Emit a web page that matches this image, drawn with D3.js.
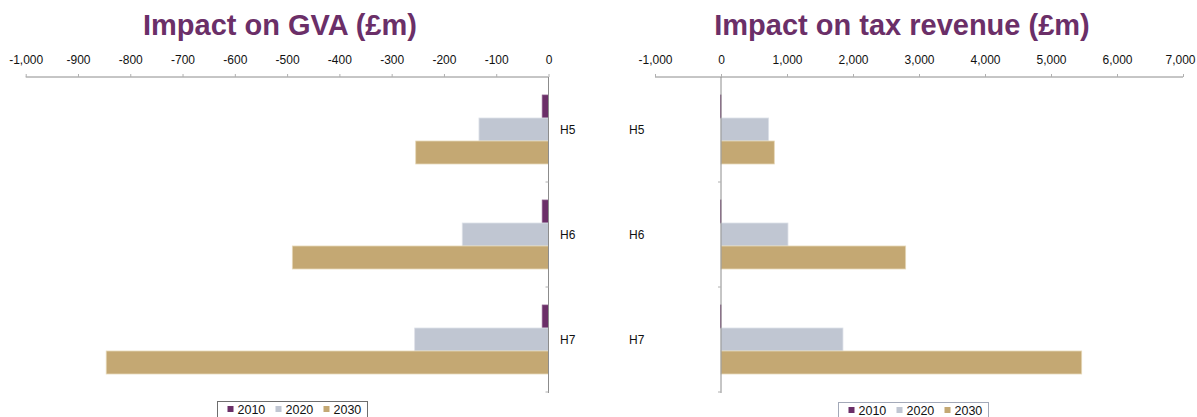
<!DOCTYPE html>
<html>
<head>
<meta charset="utf-8">
<script src="https://cdn.jsdelivr.net/npm/d3@7"></script>
<style>
  html, body { margin: 0; padding: 0; background: #fff; }
  svg { display: block; font-family: "Liberation Sans", Arial, sans-serif; }
</style>
</head>
<body>
<svg id="chart" width="1197" height="417"></svg>
<script>
// Scenario categories and years
const categories = ["H5", "H6", "H7"];
const years = ["2010", "2020", "2030"];

// Impact on GVA (£m), one array per year, in category order
const gva2010 = [-12, -12, -12];
const gva2020 = [-133, -165, -256];
const gva2030 = [-254, -490, -846];

// Impact on tax revenue (£m)
const tax2010 = [-8, -8, -8];
const tax2020 = [722, 1015, 1848];
const tax2030 = [808, 2798, 5465];

// Axis tick values
const gvaTicks = [-1000, -900, -800, -700, -600, -500, -400, -300, -200, -100, 0];
const taxTicks = [-1000, 0, 1000, 2000, 3000, 4000, 5000, 6000, 7000];

const colors = { "2010": "#6b2f68", "2020": "#c0c6d2", "2030": "#c4a873" };
const strokes = { "2010": "#8a5a88", "2020": "#dde1e8", "2030": "#e6d8b8" };
const purple = "#6b2f68";
const axisGrey = "#8c8c8c";
const W = 1197;

const svg = d3.select("#chart");
const comma = d3.format(",");
// thousands separator with a plain hyphen for negatives
const fmt = d => comma(d).replace("\u2212", "-");

function drawPanel(opts) {
  const g = svg.append("g");
  const x = d3.scaleLinear().domain(opts.domain).range(opts.xRange);
  const y = d3.scaleBand().domain(categories).range([77, 392])
    .paddingInner(0.343).paddingOuter(0.1715);
  const ySub = d3.scaleBand().domain(years).range([0, y.bandwidth()]);

  // Title
  g.append("text")
    .attr("x", opts.titleX).attr("y", 35)
    .attr("text-anchor", "middle")
    .attr("font-size", 29).attr("font-weight", "bold")
    .attr("fill", purple)
    .text(opts.title);

  // Bars
  const rows = categories.map((c, i) => ({
    cat: c,
    vals: years.map((yr, k) => ({ year: yr, value: opts.series[k][i] }))
  }));
  const grp = g.selectAll("g.cat").data(rows).join("g")
    .attr("transform", d => `translate(0,${y(d.cat)})`);
  grp.selectAll("rect").data(d => d.vals).join("rect")
    .attr("x", d => x(Math.min(0, d.value)))
    .attr("y", d => ySub(d.year))
    .attr("width", d => Math.abs(x(d.value) - x(0)))
    .attr("height", ySub.bandwidth())
    .attr("fill", d => colors[d.year])
    .attr("stroke", d => strokes[d.year])
    .attr("stroke-width", 0.8);

  // Value axis along the top
  const xAxis = d3.axisTop(x).tickValues(opts.ticks).tickFormat(fmt)
    .tickSize(3).tickPadding(10);
  const ax = g.append("g").attr("transform", "translate(0,77)").call(xAxis);
  ax.select(".domain").attr("stroke", axisGrey).attr("d", `M${opts.xRange[0]},0H${opts.xRange[1]}`);
  ax.selectAll(".tick line").attr("stroke", "#b0b0b0");
  ax.selectAll(".tick text").attr("font-size", 12).attr("fill", "#111")
    .attr("font-family", "Liberation Sans, Arial, sans-serif")
    .each(function (d) {
      // keep the outermost label inside the drawing
      const right = x(d) + this.getComputedTextLength() / 2;
      if (right > W - 2) d3.select(this).attr("dx", W - 2 - right);
    });

  // Category axis at zero
  const x0 = x(0);
  g.append("line")
    .attr("x1", x0).attr("x2", x0).attr("y1", 77).attr("y2", 393)
    .attr("stroke", axisGrey).attr("stroke-width", 1);
  const bounds = categories.map(c => y(c) - y.step() * 0.1715 + y.step());
  g.selectAll("line.ctick").data(bounds).join("line")
    .attr("x1", x0 - 3).attr("x2", x0).attr("y1", d => d).attr("y2", d => d)
    .attr("stroke", "#b0b0b0");
  g.selectAll("text.cat").data(categories).join("text")
    .attr("x", opts.catX).attr("y", d => y(d) + y.bandwidth() / 2 + 4)
    .attr("font-size", 12).attr("fill", "#111")
    .text(d => d);

  // Legend
  const lg = g.append("g").attr("transform", `translate(${opts.legendX},${opts.legendY})`);
  lg.append("rect").attr("x", 0).attr("y", 0).attr("width", 150).attr("height", 20)
    .attr("fill", "#fff").attr("stroke", opts.legendStroke).attr("stroke-width", 1);
  years.forEach((yr, k) => {
    lg.append("rect").attr("x", 10 + k * 48).attr("y", 4.5).attr("width", 6).attr("height", 6)
      .attr("fill", colors[yr]);
    lg.append("text").attr("x", 20 + k * 48).attr("y", 12)
      .attr("font-size", 12.5).attr("fill", "#111").text(yr);
  });
}

drawPanel({
  title: "Impact on GVA (£m)", titleX: 280,
  domain: [-1000, 0], xRange: [25.7, 548.5], ticks: gvaTicks,
  series: [gva2010, gva2020, gva2030],
  catX: 560, legendX: 217.5, legendY: 401.5, legendStroke: "#6e6e6e"
});

drawPanel({
  title: "Impact on tax revenue (£m)", titleX: 902,
  domain: [-1000, 7000], xRange: [655, 1183], ticks: taxTicks,
  series: [tax2010, tax2020, tax2030],
  catX: 629, legendX: 838.5, legendY: 402.5, legendStroke: "#a3a9b8"
});
</script>
</body>
</html>
